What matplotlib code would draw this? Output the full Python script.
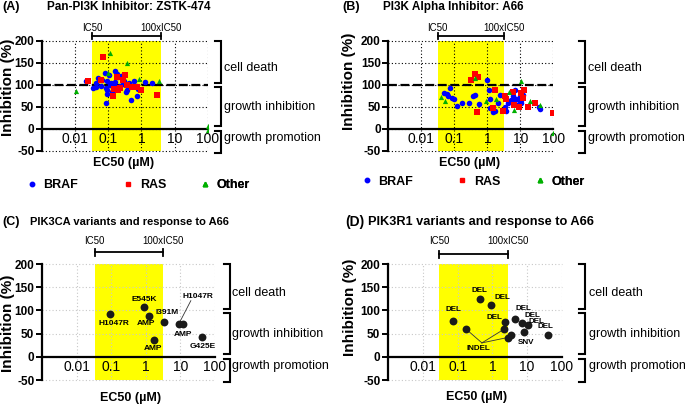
import matplotlib
matplotlib.use('Agg')
import matplotlib.pyplot as plt
from matplotlib import transforms
from matplotlib.ticker import NullLocator
from matplotlib.lines import Line2D

plt.rcParams['font.family'] = ['Liberation Sans', 'DejaVu Sans']

# ---------------- data ----------------
xticks = [0.01, 0.1, 1, 10, 100]
xtick_labels = ['0.01', '0.1', '1', '10', '100']
yticks = [-50, 0, 50, 100, 150, 200]
zone_labels = ['cell death', 'growth inhibition', 'growth promotion']
zone_spans = [(104, 200), (6, 95), (-54, -4)]
zone_label_y = [138, 49, -20]

# Panel A: ZSTK-474
a_ic = (0.033, 4.0)
a_braf_x = [0.021, 0.042, 0.05, 0.042, 0.059, 0.078, 0.09, 0.083, 0.094, 0.086, 0.105, 0.094,
            0.12, 0.15, 0.165, 0.18, 0.2, 0.24, 0.13, 0.23, 0.29, 0.37, 0.42, 0.35, 0.47, 0.6,
            0.75, 0.78, 0.52, 1.3, 2.1, 0.165, 0.066, 0.035, 0.11, 0.27]
a_braf_y = [110, 104, 116, 95, 98, 128, 108, 93, 79, 60, 123, 89,
            104, 100, 131, 125, 118, 121, 85, 97, 108, 89, 104, 83, 65, 110,
            74, 90, 97, 106, 104, 106, 112, 93, 100, 103]
a_ras_x = [0.07, 0.06, 0.14, 0.18, 0.2, 0.33, 0.27, 0.37, 0.75, 1.0, 3.0, 0.024, 0.15, 0.52, 0.23]
a_ras_y = [163, 112, 75, 119, 89, 123, 112, 100, 95, 88, 77, 108, 91, 95, 93]
a_oth_x = [0.0103, 0.112, 0.37, 0.84, 3.3, 100, 100, 0.1]
a_oth_y = [87, 173, 151, 114, 108, 6, -3, 128]

# Panel B: A66
b_ic = (0.031, 3.2)
b_braf_x = [0.05, 0.066, 0.074, 0.084, 0.095, 0.12, 0.17, 0.28, 0.36, 0.41, 0.55, 0.95,
            1.1, 1.17, 1.2, 1.5, 1.7, 2.1, 2.4, 3.5, 3.6, 4.1, 5.2, 6.1, 7.1, 6.1, 7.4,
            8.9, 10.6, 9.5, 10.6, 11.9, 8.0, 36.7, 40, 0.058]
b_braf_y = [81, 74, 93, 70, 68, 53, 60, 60, 74, 78, 57, 112,
            89, 68, 48, 38, 40, 60, 78, 50, 40, 59, 66, 74, 89, 63, 68,
            65, 66, 74, 59, 78, 55, 51, 45, 79]
b_ras_x = [0.33, 0.41, 0.53, 0.49, 1.5, 1.7, 2.9, 3.4, 3.6, 5.9, 8.9, 10.6, 11.9, 13.3,
           16.7, 27, 100, 6.6]
b_ras_y = [112, 125, 118, 38, 48, 89, 40, 74, 68, 85, 51, 82, 70, 89, 51, 59, 36, 55]
b_oth_x = [0.039, 0.052, 0.43, 0.89, 1.8, 4.6, 6.6, 10.6, 19, 39, 100]
b_oth_y = [72, 64, 115, 63, 68, 85, 44, 108, 63, 55, -8]

# Panel C: PIK3CA variants
c_ic = (0.033, 3.2)
c_x = [0.095, 0.91, 1.27, 3.3, 8.9, 12.0, 1.7, 42]
c_y = [92, 107, 88, 76, 70, 70, 36, 43]
c_lab = ['H1047R', 'E545K', 'AMP', 'I391M', 'H1047R', 'AMP', 'AMP', 'G425E']
c_lab_x = [0.12, 0.91, 0.98, 4.1, 33, 11.7, 1.6, 45]
c_lab_y = [72, 124, 72, 95, 130, 49, 17, 23]

# Panel D: PIK3R1 variants
d_ic = (0.03, 2.9)
d_x = [0.075, 0.18, 0.43, 0.93, 2.3, 2.1, 2.9, 3.5, 4.5, 7.0, 10.4, 8.0, 39]
d_y = [78, 59, 125, 112, 76, 59, 40, 47, 81, 72, 68, 54, 48]
d_lab = ['DEL', 'DEL', 'DEL', 'DEL', 'DEL', 'DEL', 'DEL', 'DEL', 'SNV', 'INDEL']
d_lab_x = [0.078, 0.43, 1.9, 1.16, 7.6, 14.0, 19, 33, 9.3, 0.39]
d_lab_y = [101, 142, 128, 85, 104, 90, 77, 65, 30, 18]

BLUE, RED, GREEN, YEL = '#0000ff', '#ff0000', '#00b000', '#ffff00'

fig = plt.figure(figsize=(6.85, 4.07), dpi=100)


def setup(ax, ic, grid_col, dashed, br_x, lab_x, ic_line, ic_lab, xl, yl):
    ax.set_xscale('log')
    ax.set_xlim(0.001, 100)
    ax.set_ylim(-50, 200)
    ax.axvspan(ic[0], ic[1], color=YEL, lw=0, zorder=0.2)
    ax.set_xticks(xticks)
    ax.set_xticklabels(xtick_labels, fontweight='bold', fontsize=7.5)
    ax.xaxis.set_minor_locator(NullLocator())
    ax.set_yticks(yticks)
    ax.set_yticklabels([str(v) for v in yticks], fontweight='bold', fontsize=8.5)
    ax.set_axisbelow(True)
    ax.grid(True, color=grid_col, ls=(0, (1, 2)), lw=0.8)
    for gl in ax.get_xgridlines() + ax.get_ygridlines():
        gl.set_clip_on(False)
    for s in ('top', 'right'):
        ax.spines[s].set_visible(False)
    ax.spines['bottom'].set_position(('data', 0))
    ax.spines['bottom'].set_linewidth(1.6)
    ax.spines['left'].set_linewidth(1.6)
    ax.spines['bottom'].set_zorder(2.5)
    ax.tick_params(axis='x', length=0, pad=2.5)
    ax.tick_params(axis='y', length=4, width=1.4, direction='out', pad=1.5)
    if dashed:
        ax.axhline(100, color='k', lw=1.6, dashes=(4, 1.6), zorder=1.5)
    tr = transforms.blended_transform_factory(ax.transData, ax.transAxes)
    ax.plot([ic[0], ic[1]], [ic_line, ic_line], transform=tr, clip_on=False, color='k', lw=1.3)
    for xv in ic:
        ax.plot([xv, xv], [ic_line - 0.03, ic_line + 0.03], transform=tr, clip_on=False,
                color='k', lw=1.3)
    ax.text(ic[0], ic_lab, 'IC50', transform=tr, ha='center', va='center', fontsize=7)
    ax.text(ic[1], ic_lab, '100xIC50', transform=tr, ha='center', va='center', fontsize=7)
    tr2 = transforms.blended_transform_factory(ax.transAxes, ax.transData)
    for (lo, hi), ly, lab in zip(zone_spans, zone_label_y, zone_labels):
        ax.plot([br_x - 0.035, br_x, br_x, br_x - 0.035], [hi, hi, lo, lo], transform=tr2,
                clip_on=False, color='k', lw=1.5, solid_joinstyle='miter')
        ax.text(lab_x, ly, lab, transform=tr2, ha='left', va='center', fontsize=9)
    ax.set_xlabel('EC50 (\u00b5M)', fontsize=9, fontweight='bold')
    ax.set_ylabel('Inhibition (%)', fontsize=11, fontweight='bold')
    ax.xaxis.set_label_coords(*xl)
    ax.yaxis.set_label_coords(*yl)
    ax.xaxis.label.set_va('center')
    ax.yaxis.label.set_va('center')


def legend_row(ax, xs, y):
    items = [('BRAF', 'o', BLUE), ('RAS', 's', RED), ('Other', '^', GREEN)]
    for (lab, mk, col), x in zip(items, xs):
        h = Line2D([], [], ls='none', marker=mk, color=col, markersize=3.2)
        lg = ax.legend([h], [lab], loc='center left', bbox_to_anchor=(x, y), frameon=False,
                       handlelength=1.0, handletextpad=0.45, borderpad=0, borderaxespad=0,
                       prop={'weight': 'bold', 'size': 9})
        ax.add_artist(lg)


# Panel A
axA = fig.add_axes([0.0613, 0.629, 0.2419, 0.2703])
setup(axA, a_ic, 'black', True, 1.08, 1.10, 1.045, 1.118, (0.49, -0.11), (-0.205, 0.58))
axA.scatter(a_braf_x, a_braf_y, s=16, marker='o', color=BLUE, lw=0, zorder=3)
axA.scatter(a_ras_x, a_ras_y, s=14, marker='s', color=RED, lw=0, zorder=3)
axA.scatter(a_oth_x, a_oth_y, s=14, marker='^', color=GREEN, lw=0, zorder=3)
legend_row(axA, [-0.10, 0.48, 0.945], -0.31)
fig.text(2 / 685, 1 - 7 / 407, '(A)', fontsize=9, fontweight='bold', va='center')
fig.text(47 / 685, 1 - 7 / 407, 'Pan-PI3K Inhibitor: ZSTK-474', fontsize=8.5,
         fontweight='bold', va='center')

# Panel B
axB = fig.add_axes([0.5669, 0.629, 0.2409, 0.2703])
setup(axB, b_ic, 'black', True, 1.192, 1.212, 1.045, 1.118, (0.49, -0.11), (-0.237, 0.63))
axB.scatter(b_braf_x, b_braf_y, s=16, marker='o', color=BLUE, lw=0, zorder=3)
axB.scatter(b_ras_x, b_ras_y, s=14, marker='s', color=RED, lw=0, zorder=3)
axB.scatter(b_oth_x, b_oth_y, s=14, marker='^', color=GREEN, lw=0, zorder=3)
legend_row(axB, [-0.17, 0.41, 0.88], -0.28)
fig.text(342 / 685, 1 - 7 / 407, '(B)', fontsize=9, fontweight='bold', va='center')
fig.text(383 / 685, 1 - 7 / 407, 'PI3K Alpha Inhibitor: A66', fontsize=8.5,
         fontweight='bold', va='center')

# Panel C
axC = fig.add_axes([0.0613, 0.0663, 0.2526, 0.285])
setup(axC, c_ic, '#c8c8c8', False, 1.087, 1.097, 1.10, 1.20, (0.51, -0.158), (-0.197, 0.49))
axC.scatter(c_x, c_y, s=32, color='#1a1a1a', lw=0, zorder=3)
for t, x, y in zip(c_lab, c_lab_x, c_lab_y):
    axC.text(x, y, t, ha='center', va='center', fontsize=6, fontweight='bold', zorder=4)
axC.plot([20, 9.3], [121, 73], color='#333333', lw=0.6, zorder=2.8)
fig.text(2 / 685, 1 - 222 / 407, '(C)', fontsize=9, fontweight='bold', va='center')
fig.text(30 / 685, 1 - 222 / 407, 'PIK3CA variants and response to A66', fontsize=8,
         fontweight='bold', va='center')

# Panel D
axD = fig.add_axes([0.5664, 0.0663, 0.254, 0.285])
setup(axD, d_ic, '#c8c8c8', False, 1.132, 1.155, 1.086, 1.20, (0.51, -0.144), (-0.218, 0.63))
axD.scatter(d_x, d_y, s=32, color='#1a1a1a', lw=0, zorder=3)
for t, x, y in zip(d_lab, d_lab_x, d_lab_y):
    axD.text(x, y, t, ha='center', va='center', fontsize=5.8, fontweight='bold', zorder=4)
for px, py in [(0.18, 59), (2.1, 59), (2.9, 42)]:
    axD.plot([0.5, px], [30, py], color='#333333', lw=0.6, zorder=2.8)
fig.text(345 / 685, 1 - 222 / 407, '(D)', fontsize=10, fontweight='bold', va='center')
fig.text(368 / 685, 1 - 222 / 407, 'PIK3R1 variants and response to A66', fontsize=9.2,
         fontweight='bold', va='center')

fig.savefig('out.png', dpi=100)
